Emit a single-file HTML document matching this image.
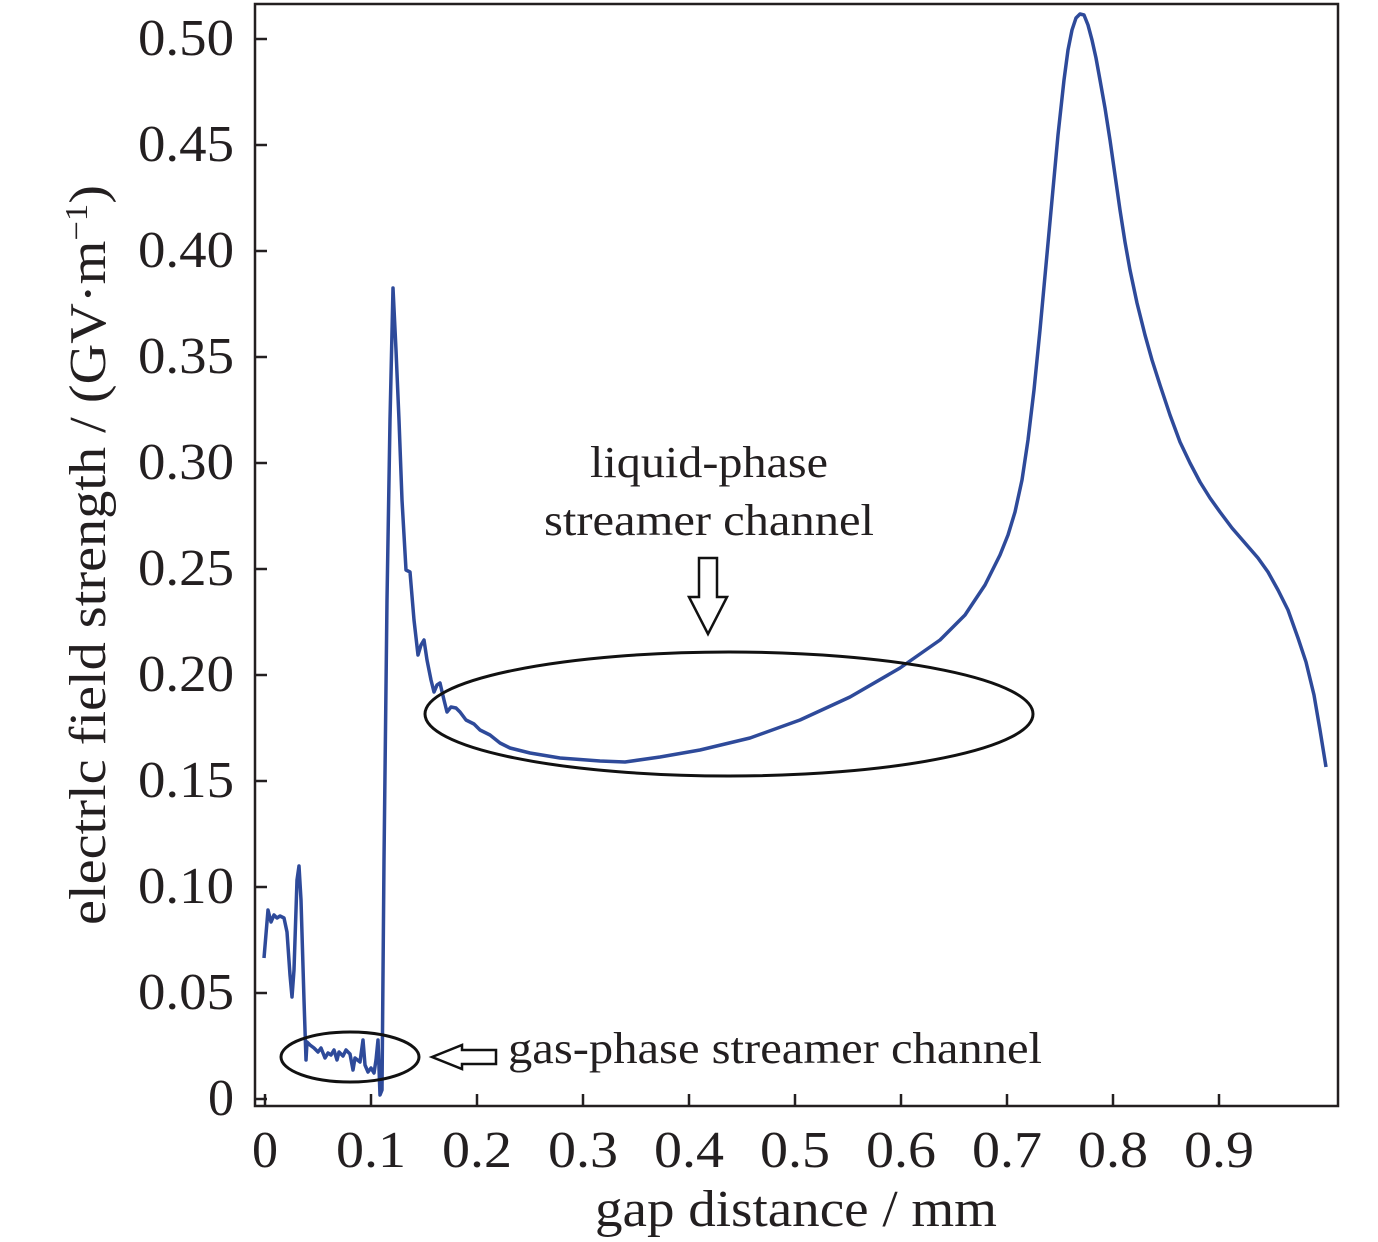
<!DOCTYPE html>
<html><head><meta charset="utf-8"><style>body{margin:0;background:#fff}svg{display:block}text{font-family:"Liberation Serif",serif;fill:#231f20}</style></head>
<body>
<svg width="1378" height="1242" viewBox="0 0 1378 1242">
<rect x="255" y="4" width="1083" height="1102" fill="none" stroke="#231f20" stroke-width="2.5"/>
<g stroke="#231f20" stroke-width="2.5">
<line x1="255" y1="1099" x2="267" y2="1099"/><line x1="255" y1="993" x2="267" y2="993"/><line x1="255" y1="887" x2="267" y2="887"/><line x1="255" y1="781" x2="267" y2="781"/><line x1="255" y1="675" x2="267" y2="675"/><line x1="255" y1="569" x2="267" y2="569"/><line x1="255" y1="463" x2="267" y2="463"/><line x1="255" y1="357" x2="267" y2="357"/><line x1="255" y1="251" x2="267" y2="251"/><line x1="255" y1="145" x2="267" y2="145"/><line x1="255" y1="39" x2="267" y2="39"/>
<line x1="265" y1="1106" x2="265" y2="1094"/><line x1="371" y1="1106" x2="371" y2="1094"/><line x1="477" y1="1106" x2="477" y2="1094"/><line x1="583" y1="1106" x2="583" y2="1094"/><line x1="689" y1="1106" x2="689" y2="1094"/><line x1="795" y1="1106" x2="795" y2="1094"/><line x1="901" y1="1106" x2="901" y2="1094"/><line x1="1007" y1="1106" x2="1007" y2="1094"/><line x1="1113" y1="1106" x2="1113" y2="1094"/><line x1="1219" y1="1106" x2="1219" y2="1094"/>
</g>
<g font-size="52" text-anchor="end">
<text x="234" y="1115">0</text><text x="234" y="1009" textLength="96" lengthAdjust="spacingAndGlyphs">0.05</text><text x="234" y="903" textLength="96" lengthAdjust="spacingAndGlyphs">0.10</text><text x="234" y="797" textLength="96" lengthAdjust="spacingAndGlyphs">0.15</text><text x="234" y="691" textLength="96" lengthAdjust="spacingAndGlyphs">0.20</text><text x="234" y="585" textLength="96" lengthAdjust="spacingAndGlyphs">0.25</text><text x="234" y="479" textLength="96" lengthAdjust="spacingAndGlyphs">0.30</text><text x="234" y="373" textLength="96" lengthAdjust="spacingAndGlyphs">0.35</text><text x="234" y="267" textLength="96" lengthAdjust="spacingAndGlyphs">0.40</text><text x="234" y="161" textLength="96" lengthAdjust="spacingAndGlyphs">0.45</text><text x="234" y="55" textLength="96" lengthAdjust="spacingAndGlyphs">0.50</text>
</g>
<g font-size="52" text-anchor="middle">
<text x="265" y="1167">0</text><text x="371" y="1167" textLength="70" lengthAdjust="spacingAndGlyphs">0.1</text><text x="477" y="1167" textLength="70" lengthAdjust="spacingAndGlyphs">0.2</text><text x="583" y="1167" textLength="70" lengthAdjust="spacingAndGlyphs">0.3</text><text x="689" y="1167" textLength="70" lengthAdjust="spacingAndGlyphs">0.4</text><text x="795" y="1167" textLength="70" lengthAdjust="spacingAndGlyphs">0.5</text><text x="901" y="1167" textLength="70" lengthAdjust="spacingAndGlyphs">0.6</text><text x="1007" y="1167" textLength="70" lengthAdjust="spacingAndGlyphs">0.7</text><text x="1113" y="1167" textLength="70" lengthAdjust="spacingAndGlyphs">0.8</text><text x="1219" y="1167" textLength="70" lengthAdjust="spacingAndGlyphs">0.9</text>
</g>
<text x="595" y="1226" font-size="52" textLength="402" lengthAdjust="spacingAndGlyphs">gap distance / mm</text>
<text transform="translate(105,925) rotate(-90)" font-size="52" textLength="740" lengthAdjust="spacingAndGlyphs">electrlc field strength / (GV·m<tspan font-size="32" dy="-18">−1</tspan><tspan dy="18">)</tspan></text>
<polyline fill="none" stroke="#2e4a9a" stroke-width="3.5" stroke-linejoin="round" points="264,958 268,910 271,922 274,915 277,918 280,916 284,918 287,932 290,975 292,997 294,970 297,880 299,866 301,900 304,1000 306,1060 307,1042 310,1045 314,1048 318,1052 321,1048 325,1058 328,1053 331,1055 334,1050 337,1060 339,1052 343,1056 346,1050 350,1054 353,1070 355,1058 360,1062 363,1040 365,1065 368,1072 371,1068 374,1073 376,1060 378,1040 380,1095 382,1090 384,860 387,600 390,420 393,288 396,350 399,420 402,500 406,570 410,572 414,620 418,655 421,645 424,640 427,660 431,680 434,692 437,685 440,683 444,700 447,712 451,707 456,708 460,712 466,720 474,724 480,730 490,735 500,743 510,748 530,753 560,758 600,761 625,762 660,757 700,750 750,738 800,720 850,697 900,668 940,640 965,615 985,585 1000,555 1008,535 1015,512 1022,480 1028,440 1034,390 1040,330 1046,265 1052,200 1058,135 1064,80 1068,50 1072,30 1076,18 1080,14 1084,15 1088,25 1092,40 1096,58 1100,80 1105,108 1110,140 1115,175 1120,210 1125,242 1130,270 1137,303 1145,335 1152,360 1160,385 1170,415 1180,442 1190,463 1200,482 1210,498 1220,512 1232,528 1245,543 1258,558 1268,572 1278,590 1288,610 1298,638 1306,662 1314,695 1320,730 1326,767"/>
<g fill="none" stroke="#111" stroke-width="3">
<ellipse cx="729" cy="714" rx="304" ry="62"/>
<ellipse cx="350" cy="1057" rx="69" ry="25"/>
<polygon points="699,558 717,558 717,597 727,597 708,634 689,597 699,597" stroke-width="2.5"/>
<polygon points="432,1057 462,1045 462,1050 496,1050 496,1064 462,1064 462,1069" stroke-width="2.5"/>
</g>
<text x="590" y="477" font-size="44" textLength="238" lengthAdjust="spacingAndGlyphs">liquid-phase</text>
<text x="544" y="535" font-size="44" textLength="330" lengthAdjust="spacingAndGlyphs">streamer channel</text>
<text x="508" y="1063" font-size="44" textLength="534" lengthAdjust="spacingAndGlyphs">gas-phase streamer channel</text>
</svg>
</body></html>
